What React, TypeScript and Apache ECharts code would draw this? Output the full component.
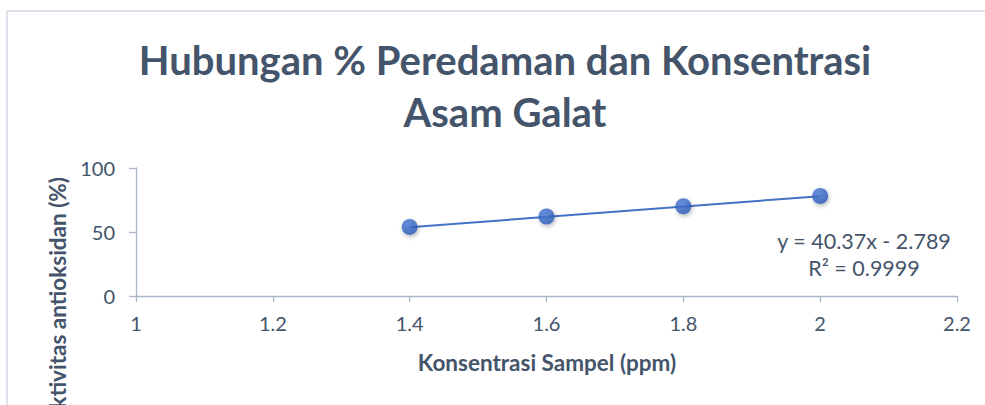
import React, { useEffect, useRef } from "react";
import * as echarts from "echarts";

const titleLines = ["Hubungan % Peredaman dan Konsentrasi", "Asam Galat"];
const xAxisTitle = "Konsentrasi Sampel (ppm)";
const yAxisTitle = "Aktivitas antioksidan (%)";

const concentrations = [1.4, 1.6, 1.8, 2.0];
const inhibition = [54.0, 62.1, 70.1, 78.1];

const trendSlope = 40.37;
const trendIntercept = -2.789;
const trendRange = [1.4, 2.0];
const equationLines = ["y = 40.37x - 2.789", "R² = 0.9999"];

const xMin = 1;
const xMax = 2.2;
const xStep = 0.2;
const yMin = 0;
const yMax = 100;
const yStep = 50;

const FONT = "Lato";
const TEXT = "#44546a";
const AXIS = "#aab5c6";
const BLUE = "#4472c4";

export default function App() {
  const ref = useRef<HTMLDivElement>(null);
  useEffect(() => {
    if (!ref.current) return;
    const chart = echarts.init(ref.current, null, { renderer: "svg" });
    const points = concentrations.map((x, i) => [x, inhibition[i]]);
    const trend = trendRange.map((x) => [x, trendSlope * x + trendIntercept]);
    chart.setOption({
      animation: false,
      backgroundColor: "#ffffff",
      grid: { left: 136, right: 28, top: 168, bottom: 109 },
      xAxis: {
        type: "value",
        min: xMin,
        max: xMax,
        interval: xStep,
        axisLine: { show: true, lineStyle: { color: AXIS, width: 1.3 } },
        axisTick: { show: true, inside: false, length: 6, lineStyle: { color: AXIS, width: 1.3 } },
        axisLabel: {
          margin: 17,
          color: TEXT,
          fontFamily: FONT,
          fontSize: 20,
          formatter: (v: number) => String(Math.round(v * 10) / 10),
        },
        splitLine: { show: false },
      },
      yAxis: {
        type: "value",
        min: yMin,
        max: yMax,
        interval: yStep,
        axisLine: { show: true, lineStyle: { color: AXIS, width: 1.3 } },
        axisTick: { show: true, inside: false, length: 7, lineStyle: { color: AXIS, width: 1.3 } },
        axisLabel: { margin: 21, color: TEXT, fontFamily: FONT, fontSize: 20 },
        splitLine: { show: false },
      },
      series: [
        {
          type: "line",
          data: trend,
          symbol: "none",
          lineStyle: { color: BLUE, width: 2 },
          z: 2,
        },
        {
          type: "scatter",
          data: points,
          symbol: "circle",
          symbolSize: 16,
          itemStyle: {
            color: {
              type: "radial",
              x: 0.4,
              y: 0.35,
              r: 0.7,
              colorStops: [
                { offset: 0, color: "#4a7bd8" },
                { offset: 1, color: "#2857b3" },
              ],
            },
            shadowBlur: 4,
            shadowColor: "rgba(0,0,0,0.35)",
            shadowOffsetY: 2,
            shadowOffsetX: 1,
          },
          z: 3,
        },
      ],
      graphic: [
        {
          type: "rect",
          shape: { x: 7, y: 11, width: 1200, height: 800 },
          style: { fill: "none", stroke: "#dde1e9", lineWidth: 2 },
          silent: true,
        },
        {
          type: "text",
          x: 505,
          y: 60,
          style: {
            text: titleLines[0],
            font: `bold 40px ${FONT}`,
            fill: TEXT,
            align: "center",
            verticalAlign: "middle",
          },
        },
        {
          type: "text",
          x: 505,
          y: 112,
          style: {
            text: titleLines[1],
            font: `bold 40px ${FONT}`,
            fill: TEXT,
            align: "center",
            verticalAlign: "middle",
          },
        },
        {
          type: "text",
          x: 547,
          y: 362,
          style: {
            text: xAxisTitle,
            font: `bold 22.5px ${FONT}`,
            fill: TEXT,
            align: "center",
            verticalAlign: "middle",
          },
        },
        {
          type: "text",
          x: 57,
          y: 177,
          rotation: Math.PI / 2,
          style: {
            text: yAxisTitle,
            font: `bold 22.5px ${FONT}`,
            fill: TEXT,
            align: "right",
            verticalAlign: "middle",
          },
        },
        {
          type: "text",
          x: 864,
          y: 241,
          style: {
            text: equationLines[0],
            font: `21.5px ${FONT}`,
            fill: TEXT,
            align: "center",
            verticalAlign: "middle",
          },
        },
        {
          type: "text",
          x: 864,
          y: 268,
          style: {
            text: equationLines[1],
            font: `21.5px ${FONT}`,
            fill: TEXT,
            align: "center",
            verticalAlign: "middle",
          },
        },
      ],
    });
    return () => chart.dispose();
  }, []);
  return (
    <div
      ref={ref}
      style={{ position: "absolute", left: 0, top: 0, width: 985, height: 405 }}
    />
  );
}
